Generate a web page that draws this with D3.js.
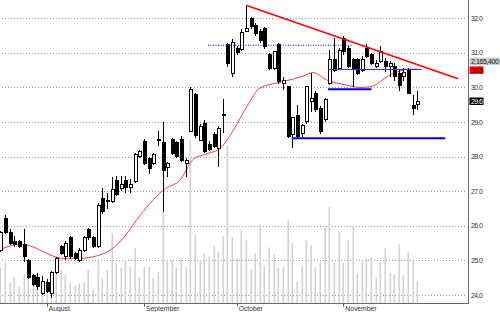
<!DOCTYPE html>
<html>
<head>
<meta charset="utf-8">
<script src="https://cdn.jsdelivr.net/npm/d3@7/dist/d3.min.js"></script>
<style>
  body { margin: 0; background: #fff; }
  svg { display: block; }
  text { font-family: "Liberation Sans", Arial, sans-serif; }
</style>
</head>
<body>
<div id="box"></div>
<script>
// daily bars, index 0..90
var opens  = [25.3,26.2,25.8,25.55,25.55,25.45,25.0,24.55,24.5,24.05,
              24.35,24.05,24.65,25.4,25.1,25.65,25.2,25.0,25.3,25.9,
              25.65,25.4,26.8,26.72,26.7,27.3,27.08,27.3,27.12,27.28,
              28.0,28.45,27.95,27.8,28.5,28.4,27.7,28.5,28.4,28.5,
              27.8,28.72,29.8,28.48,28.97,28.34,28.63,28.24,29.22,31.23,
              30.4,31.13,31.1,31.62,32.0,31.8,31.61,31.71,30.94,30.55,
              31.23,30.12,30.02,28.63,29.2,28.68,29.01,29.6,29.83,29.4,
              29.06,30.12,30.8,30.55,31.42,31.14,30.8,30.8,30.5,31.14,
              30.94,30.62,30.75,30.75,30.6,30.6,30.41,30.33,30.52,29.49,
              29.52];
var highs  = [25.85,26.3,25.9,25.7,25.6,25.9,25.05,24.6,24.65,24.55,
              24.45,24.7,25.1,25.45,25.55,25.7,25.25,25.35,25.7,25.95,
              25.7,26.65,27.1,26.95,27.4,27.45,27.45,27.45,27.35,28.1,
              28.2,28.5,28.0,28.1,28.75,29.0,27.85,28.55,28.45,28.6,
              27.95,30.0,29.85,28.95,29.05,28.45,28.7,28.9,29.68,31.3,
              31.4,31.2,31.7,32.38,32.05,31.85,31.7,31.75,31.0,31.05,
              31.3,30.31,30.05,29.16,29.5,28.95,30.05,30.41,29.9,29.45,
              29.7,31.08,31.43,31.15,31.5,31.2,30.85,30.85,30.9,31.25,
              31.0,30.8,31.21,30.85,30.77,30.7,30.5,30.55,30.55,29.78,
              29.9];
var lows   = [25.25,25.75,25.45,25.4,25.35,24.95,24.45,24.25,24.15,24.0,
              24.05,23.9,24.6,25.15,25.0,25.05,25.0,24.95,25.25,25.6,
              25.35,25.35,26.35,26.5,26.65,26.85,27.0,26.95,26.95,27.25,
              27.95,27.75,27.5,27.75,28.3,26.4,27.4,28.05,27.95,27.85,
              27.4,28.7,28.55,28.45,28.1,28.15,28.25,27.7,28.68,30.6,
              30.3,30.95,31.05,31.6,31.7,31.5,31.3,31.1,30.5,30.5,
              30.1,29.93,28.55,28.24,28.55,28.55,28.95,29.3,29.3,28.65,
              29.0,30.07,30.45,30.5,30.95,30.55,30.0,30.35,30.45,30.85,
              30.65,30.55,30.7,30.45,30.3,30.2,29.9,30.2,29.8,29.2,
              29.35];
var closes = [25.8,25.8,25.5,25.45,25.4,25.1,24.5,24.3,24.25,24.4,
              24.1,24.65,25.05,25.2,25.5,25.1,25.05,25.3,25.65,25.65,
              25.4,26.6,26.4,26.7,27.05,26.9,27.2,27.1,27.2,28.05,
              28.15,27.8,27.65,28.05,28.48,27.6,27.8,28.1,28.0,27.9,
              27.9,29.93,28.6,28.87,28.15,28.2,28.3,28.82,29.2,30.7,
              31.3,31.0,31.6,31.7,31.76,31.57,31.37,31.18,30.55,31.03,
              30.17,30.2,28.58,29.12,28.58,28.89,30.02,29.68,29.35,28.72,
              29.64,30.8,30.5,31.08,31.03,30.6,30.56,30.41,30.8,30.89,
              30.7,30.7,31.03,30.6,30.68,30.31,30.07,30.42,29.83,29.4,
              29.6];
// volume in millions of shares
var volumes = [3.4,3.9,2.0,2.5,1.6,2.8,4.0,1.9,2.5,1.7,
               1.3,2.5,2.9,3.3,2.7,2.0,1.7,1.9,2.0,3.2,
               1.3,4.2,2.4,3.2,6.8,3.9,3.4,4.2,3.5,5.3,
               2.5,3.5,3.5,2.4,3.0,8.9,4.2,4.2,3.4,4.3,
               3.5,15.8,6.6,4.2,4.8,4.5,5.5,5.0,6.5,15.3,
               6.4,4.3,7.1,6.1,3.3,4.8,7.6,3.6,5.4,4.7,
               3.4,3.5,8.0,5.8,2.1,3.6,6.1,5.6,3.5,4.0,
               7.4,9.3,3.9,6.9,3.9,6.1,7.5,2.9,4.0,4.4,
               4.4,2.4,4.0,5.3,2.9,2.8,5.7,2.7,4.9,4.1,
               2.1654];

// moving average (bar index, price)
var maIdx = [0,1.7,4.2,6.8,8.6,10.7,13.6,17.2,20.8,23.7,26.5,29.4,32.3,35.2,38.8,
             41.6,43.8,47.4,50.3,53.2,56,61.1,65.4,67.5,70.4,74.7,77.6,79.8,84.1,88.4,90.1];
var maVal = [25.32,25.40,25.47,25.40,25.30,25.16,25.06,25.06,25.13,25.30,25.64,26.17,26.65,27.04,27.33,
             27.92,28.05,28.24,28.77,29.45,29.98,30.17,30.33,30.43,30.22,30.07,30.0,30.02,30.36,30.53,30.53];

var priceTicks = [24, 25, 26, 27, 28, 29, 30, 31, 32];
var monthNames = ["August", "September", "October", "November"];
var monthIdx   = [10, 31, 51, 74];

// drawn lines: [startIdx, startPrice, endIdx, endPrice]
var redTrend   = [53, 32.38, 98.8, 30.25];
var blueLow    = [62.9, 28.53, 96, 28.53];
var blueMid    = [70.7, 29.95, 80.1, 29.95];
var blueThin   = [70.7, 30.52, 90.9, 30.52];
var blueDotted = [44.8, 31.22, 76.1, 31.22];

var lastVolume = "2,165,400";
var lastMA = 30.5;
var lastClose = 29.6;

var width = 500,
    height = 312,
    axisX = 468.5,
    axisY = 303.5;

var x = d3.scaleLinear().domain([0, 90]).range([0.36, 417.4]);
var y = d3.scaleLinear().domain([24, 32]).range([295, 18.3]);
var yVol = d3.scaleLinear().domain([0, 16]).range([303, 138.2]);

var svg = d3.select("#box").append("svg")
    .attr("width", width)
    .attr("height", height);

svg.append("rect").attr("width", width).attr("height", height).style("fill", "#fff");

//Dotted price grid
svg.append("g").selectAll("line")
    .data(priceTicks)
    .enter().append("line")
    .attr("x1", 2)
    .attr("x2", 466)
    .attr("y1", function(d){ return Math.round(y(d)) + 0.5; })
    .attr("y2", function(d){ return Math.round(y(d)) + 0.5; })
    .style("stroke", "#9a9a9a")
    .style("stroke-dasharray", "1,2");

//Volume bars behind the candles
svg.append("g").selectAll("rect")
    .data(volumes)
    .enter().append("rect")
    .attr("x", function(d, i){ return Math.round(x(i)) - 0.5; })
    .attr("width", 1.6)
    .attr("y", function(d){ return yVol(d); })
    .attr("height", function(d){ return yVol(0) - yVol(d); })
    .style("fill", "#d2d2d2");

//Moving average
var maPts = maIdx.map(function(d, i){ return [d, maVal[i]]; });
svg.append("path")
    .attr("d", d3.line()
        .x(function(d){ return x(d[0]); })
        .y(function(d){ return y(d[1]); })
        .curve(d3.curveMonotoneX)(maPts))
    .style("fill", "none")
    .style("stroke", "#ff3a3a")
    .style("stroke-width", 1);

//Candles
var bars = d3.range(opens.length);
var candle = svg.append("g").attr("shape-rendering", "crispEdges")
    .selectAll("g")
    .data(bars)
    .enter().append("g");

candle.append("line")
    .attr("x1", function(i){ return Math.round(x(i)) + 0.5; })
    .attr("x2", function(i){ return Math.round(x(i)) + 0.5; })
    .attr("y1", function(i){ return y(highs[i]); })
    .attr("y2", function(i){ return y(lows[i]); })
    .style("stroke", "#000");

candle.append("rect")
    .attr("x", function(i){ return Math.round(x(i)) - 1; })
    .attr("width", 3)
    .attr("y", function(i){ return y(Math.max(opens[i], closes[i])); })
    .attr("height", function(i){ return Math.max(1, Math.abs(y(opens[i]) - y(closes[i]))); })
    .style("fill", function(i){ return closes[i] >= opens[i] ? "#fff" : "#000"; })
    .style("stroke", "#000");

//Drawn trend lines
function drawSeg(seg, color, w, dash) {
    var l = svg.append("line")
        .attr("x1", x(seg[0]))
        .attr("y1", y(seg[1]))
        .attr("x2", x(seg[2]))
        .attr("y2", y(seg[3]))
        .style("stroke", color)
        .style("stroke-width", w);
    if (dash) { l.style("stroke-dasharray", dash); }
}
drawSeg(redTrend, "#ff0000", 1.6);
drawSeg(blueLow, "#0000ff", 2);
drawSeg(blueMid, "#0000ff", 2);
drawSeg(blueThin, "#3030ff", 1);
drawSeg(blueDotted, "#0000ff", 1, "1,1.5");

//Axis frame
svg.append("line")
    .attr("x1", axisX).attr("x2", axisX)
    .attr("y1", 0).attr("y2", axisY + 0.5)
    .style("stroke", "#6a6a6a");
svg.append("line")
    .attr("x1", 0).attr("x2", axisX)
    .attr("y1", axisY).attr("y2", axisY)
    .style("stroke", "#6a6a6a");

//Price labels
svg.append("g").selectAll("text")
    .data(priceTicks)
    .enter().append("text")
    .attr("x", 471)
    .attr("y", function(d){ return y(d) + 2.5; })
    .style("font-size", "7px")
    .style("letter-spacing", "-0.6px")
    .style("fill", "#333")
    .text(function(d){ return d3.format(".1f")(d); });

//Month ticks and labels
var months = svg.append("g").selectAll("g")
    .data(monthIdx)
    .enter().append("g");
months.append("line")
    .attr("x1", function(d){ return Math.round(x(d)) + 0.5; })
    .attr("x2", function(d){ return Math.round(x(d)) + 0.5; })
    .attr("y1", axisY)
    .attr("y2", axisY + 3)
    .style("stroke", "#555");
months.append("text")
    .attr("x", function(d){ return x(d) + 2; })
    .attr("y", 310.5)
    .style("font-size", "6.8px")
    .style("fill", "#333")
    .text(function(d, i){ return monthNames[i]; });

//Last value tags on the price axis
svg.append("rect").attr("x", 469.5).attr("y", 57.5).attr("width", 31).attr("height", 7.5)
    .style("fill", "#cfcfcf");
svg.append("text").attr("x", 471).attr("y", 63.7)
    .style("font-size", "7px").style("letter-spacing", "-0.4px").style("fill", "#111")
    .text(lastVolume);

svg.append("rect").attr("x", 469.5).attr("y", y(lastMA) - 3.8).attr("width", 14).attr("height", 7.5)
    .style("fill", "#ff0000");
svg.append("text").attr("x", 471).attr("y", y(lastMA) + 2.5)
    .style("font-size", "7px").style("letter-spacing", "-0.6px").style("fill", "#400")
    .text(d3.format(".1f")(lastMA));

svg.append("rect").attr("x", 469.5).attr("y", y(lastClose) - 3.8).attr("width", 14).attr("height", 7.5)
    .style("fill", "#000");
svg.append("text").attr("x", 471).attr("y", y(lastClose) + 2.5)
    .style("font-size", "7px").style("letter-spacing", "-0.6px").style("fill", "#fff")
    .text(d3.format(".1f")(lastClose));
</script>
</body>
</html>
